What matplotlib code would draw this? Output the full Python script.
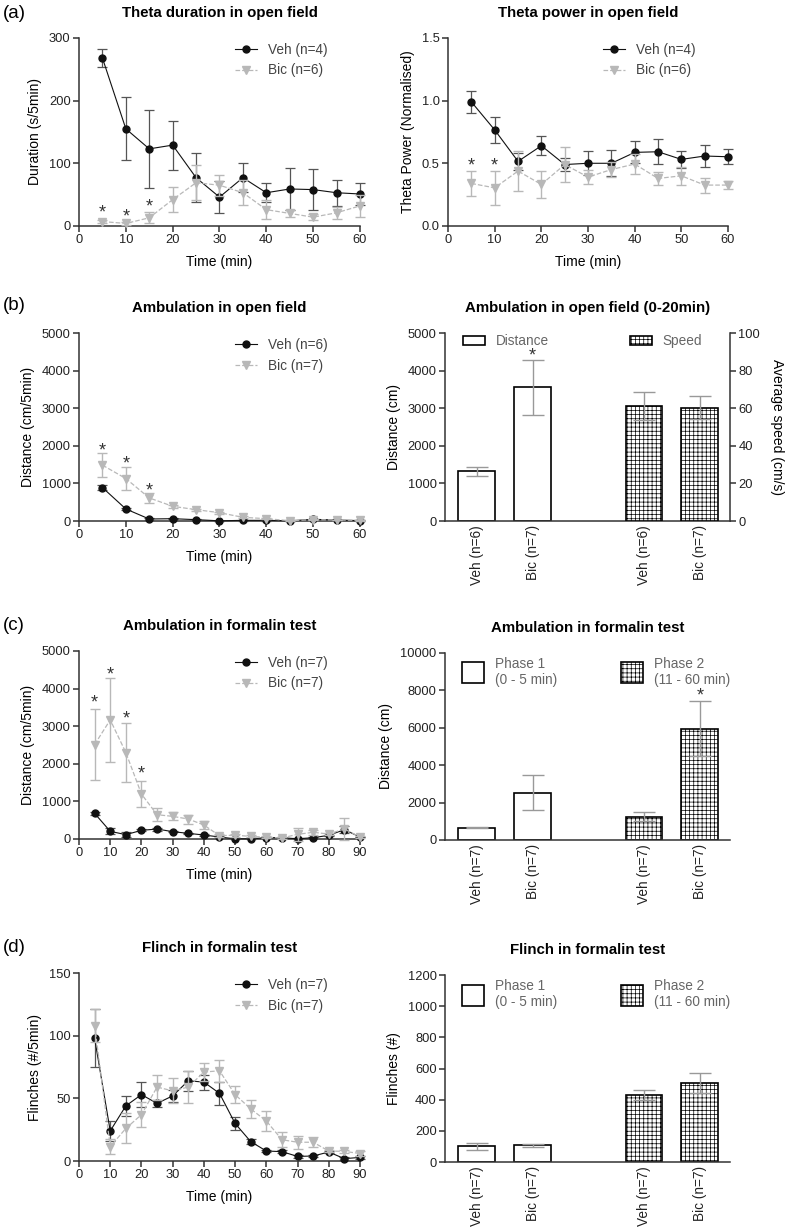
import matplotlib.pyplot as plt
from matplotlib.lines import Line2D
from matplotlib.patches import Patch

plt.rcParams['font.family'] = ['Liberation Sans', 'DejaVu Sans']
plt.rcParams['hatch.linewidth'] = 0.5
plt.rcParams['hatch.color'] = '#666666'

# time points (min)
t60 = [5, 10, 15, 20, 25, 30, 35, 40, 45, 50, 55, 60]
t90 = [5, 10, 15, 20, 25, 30, 35, 40, 45, 50, 55, 60, 65, 70, 75, 80, 85, 90]

# (a) theta duration
dur_veh = [268, 155, 123, 129, 77, 46, 77, 53, 59, 58, 53, 51]
dur_veh_err = [15, 50, 62, 39, 39, 25, 23, 15, 33, 33, 21, 18]
dur_bic = [7, 4, 13, 42, 69, 65, 53, 26, 20, 14, 21, 32]
dur_bic_err = [3, 2, 9, 20, 28, 17, 20, 15, 5, 5, 10, 18]
dur_star_x = [5, 10, 15]
dur_star_y = [20, 15, 30]

# (a) theta power
pow_veh = [0.99, 0.766, 0.515, 0.64, 0.49, 0.50, 0.50, 0.587, 0.592, 0.531, 0.558, 0.552]
pow_veh_err = [0.085, 0.105, 0.07, 0.077, 0.053, 0.095, 0.105, 0.088, 0.1, 0.07, 0.09, 0.058]
pow_bic = [0.339, 0.304, 0.438, 0.331, 0.49, 0.39, 0.45, 0.494, 0.379, 0.40, 0.326, 0.326]
pow_bic_err = [0.1, 0.135, 0.16, 0.11, 0.14, 0.054, 0.063, 0.083, 0.053, 0.07, 0.06, 0.033]
pow_star_x = [5, 10]
pow_star_y = [0.48, 0.48]

# (b) ambulation in open field
of_veh = [890, 320, 53, 62, 36, 5, 18, 18, 5, 45, 27, 10]
of_veh_err = [70, 30, 15, 20, 10, 5, 10, 10, 5, 15, 10, 5]
of_bic = [1486, 1130, 614, 391, 302, 222, 98, 62, 9, 36, 27, 18]
of_bic_err = [310, 310, 130, 40, 30, 30, 30, 20, 5, 10, 10, 5]
of_star_x = [5, 10, 15]
of_star_y = [1850, 1520, 810]

of_dist = [1326, 3559]
of_dist_err = [120, 730]
of_speed = [61.2, 60.3]
of_speed_err = [7.6, 6.0]
of_bar_star = (1, 4380)
of_bar_labels = ['Veh (n=6)', 'Bic (n=7)', 'Veh (n=6)', 'Bic (n=7)']

# (c) ambulation in formalin test
fm_veh = [681, 204, 115, 230, 265, 195, 150, 106, 53, 5, 5, 35, 35, 5, 35, 97, 248, 53]
fm_veh_err = [40, 80, 60, 30, 40, 20, 20, 20, 15, 10, 10, 10, 10, 10, 10, 20, 100, 10]
fm_bic = [2513, 3168, 2300, 1195, 646, 602, 531, 372, 88, 100, 70, 50, 27, 124, 177, 133, 265, 53]
fm_bic_err = [950, 1115, 780, 350, 170, 110, 120, 100, 40, 40, 30, 20, 15, 170, 60, 30, 290, 15]
fm_star_x = [5, 10, 15, 20]
fm_star_y = [3620, 4350, 3180, 1740]

fm_bar = [661, 2536, 1250, 5946]
fm_bar_err = [40, 950, 240, 1480]
fm_bar_star = (4, 7680)

# (d) flinch in formalin test
fl_veh = [98, 24, 44, 53, 46, 52, 64, 63, 54, 30, 15.5, 8, 7.5, 3.7, 4, 7.2, 1.9, 2.9]
fl_veh_err = [23, 8, 8, 10, 3, 5, 8, 6, 9, 5.5, 2, 1, 1, 1, 1, 1, 1, 1]
fl_bic = [108, 11.5, 26, 37, 59, 56, 59, 71, 72, 53, 41.6, 32, 17, 15, 15, 8, 7.7, 6]
fl_bic_err = [13, 6, 12, 10, 10, 10, 13, 7, 9, 6.5, 7, 8, 6, 5, 4, 1, 1, 2]

fl_bar = [100, 107, 431, 506]
fl_bar_err = [21, 10, 32, 64]
n7_labels = ['Veh (n=7)', 'Bic (n=7)', 'Veh (n=7)', 'Bic (n=7)']

bar_pos = [0, 1, 3, 4]

VEH = '#111111'
BIC = '#b8b8b8'
AX = '#333333'


def style_axes(ax):
    for s in ['top', 'right']:
        ax.spines[s].set_visible(False)
    for s in ['left', 'bottom']:
        ax.spines[s].set_linewidth(1.1)
        ax.spines[s].set_color(AX)
    ax.tick_params(direction='out', length=4, width=1.1, color=AX,
                   labelsize=9.3, labelcolor='#222222', pad=2)


def star(ax, x, y):
    ax.text(x, y, '*', ha='center', va='center', fontsize=13, color='#333333')


def line_panel(ax, t, veh, veh_err, bic, bic_err, star_x, star_y, names,
               xmax, ymax, ystep, ylabel, title):
    ax.errorbar(t, veh, yerr=veh_err, color=VEH, lw=0.8, marker='o', ms=5,
                ecolor='#555555', elinewidth=0.9, capsize=3.3, capthick=0.9,
                clip_on=False, zorder=3)
    ax.errorbar(t, bic, yerr=bic_err, color=BIC, lw=0.9, ls='--', marker='v', ms=5.5,
                ecolor=BIC, elinewidth=1.0, capsize=3.3, capthick=1.0,
                clip_on=False, zorder=4)
    for x, y in zip(star_x, star_y):
        star(ax, x, y)
    ax.set_xlim(0, xmax)
    ax.set_ylim(0, ymax)
    ax.set_xticks(range(0, xmax + 1, 10))
    yt = [i * ystep for i in range(int(round(ymax / ystep)) + 1)]
    ax.set_yticks(yt)
    style_axes(ax)
    ax.set_xlabel('Time (min)', fontsize=10, labelpad=6)
    ax.set_ylabel(ylabel, fontsize=10, labelpad=5)
    ax.set_title(title, fontsize=10.8, fontweight='bold', pad=15)
    handles = [Line2D([], [], color=VEH, lw=0.8, marker='o', ms=5),
               Line2D([], [], color=BIC, lw=0.9, ls='--', marker='v', ms=5.5)]
    ax.legend(handles, names, loc='upper left', bbox_to_anchor=(0.555, 0.975),
              frameon=False, borderaxespad=0, borderpad=0, handlelength=1.6,
              handletextpad=0.8, labelspacing=0.5, fontsize=9.8, labelcolor='#444444')


def bar_legend(ax, names, xs, y, handleheight):
    open_h = Patch(facecolor='white', edgecolor='black', lw=1.2)
    hatch_h = Patch(facecolor='white', edgecolor='black', lw=1.2, hatch='++++')
    first = None
    for h, name, x in zip([open_h, hatch_h], names, xs):
        leg = ax.legend([h], [name], loc='upper left', bbox_to_anchor=(x, y),
                        frameon=False, borderaxespad=0, borderpad=0,
                        handlelength=1.6, handleheight=handleheight,
                        handletextpad=0.8, fontsize=9.8, labelcolor='#666666')
        if first is None:
            first = leg
            ax.add_artist(leg)


def bar_axes_common(ax, labels, ymax, ystep, ylabel, title):
    ax.set_xlim(-0.57, 4.54)
    ax.set_ylim(0, ymax)
    ax.set_yticks([i * ystep for i in range(int(round(ymax / ystep)) + 1)])
    ax.set_xticks(bar_pos)
    ax.set_xticklabels(labels, rotation=90)
    style_axes(ax)
    ax.tick_params(axis='x', length=0, pad=3, labelsize=9.8)
    ax.set_ylabel(ylabel, fontsize=10, labelpad=5)
    ax.set_title(title, fontsize=10.8, fontweight='bold', pad=15)


fig = plt.figure(figsize=(7.87, 12.32), dpi=100)

L = [0.1004, 0.357]
R_line = [0.5693, 0.3558]
R_bar = [0.5654, 0.3621]
H = 0.1526

# ---- (a)
ax = fig.add_axes([L[0], 0.8166, L[1], H])
line_panel(ax, t60, dur_veh, dur_veh_err, dur_bic, dur_bic_err, dur_star_x, dur_star_y,
           ['Veh (n=4)', 'Bic (n=6)'], 60, 300, 100, 'Duration (s/5min)',
           'Theta duration in open field')
ax = fig.add_axes([R_line[0], 0.8166, R_line[1], H])
line_panel(ax, t60, pow_veh, pow_veh_err, pow_bic, pow_bic_err, pow_star_x, pow_star_y,
           ['Veh (n=4)', 'Bic (n=6)'], 60, 1.5, 0.5, 'Theta Power (Normalised)',
           'Theta power in open field')
ax.set_yticklabels(['0.0', '0.5', '1.0', '1.5'])

# ---- (b)
ax = fig.add_axes([L[0], 0.5771, L[1], H])
line_panel(ax, t60, of_veh, of_veh_err, of_bic, of_bic_err, of_star_x, of_star_y,
           ['Veh (n=6)', 'Bic (n=7)'], 60, 5000, 1000, 'Distance (cm/5min)',
           'Ambulation in open field')

ax = fig.add_axes([R_bar[0], 0.5771, R_bar[1], H])
ax2 = ax.twinx()
ax.bar(bar_pos[:2], of_dist, width=0.66, color='white', edgecolor='black', lw=1.2, zorder=2)
ax.errorbar(bar_pos[:2], of_dist, yerr=of_dist_err, fmt='none', ecolor='#999999',
            elinewidth=1.0, capsize=8, capthick=1.0, zorder=3)
ax2.bar(bar_pos[2:], of_speed, width=0.66, color='white', edgecolor='black', lw=1.2,
        hatch='++++', zorder=2)
ax2.errorbar(bar_pos[2:], of_speed, yerr=of_speed_err, fmt='none', ecolor='#999999',
             elinewidth=1.0, capsize=8, capthick=1.0, zorder=3)
star(ax, *of_bar_star)
bar_axes_common(ax, of_bar_labels, 5000, 1000, 'Distance (cm)',
                'Ambulation in open field (0-20min)')
ax2.set_ylim(0, 100)
ax2.set_yticks([0, 20, 40, 60, 80, 100])
for s in ['top', 'left', 'bottom']:
    ax2.spines[s].set_visible(False)
ax2.spines['right'].set_linewidth(1.1)
ax2.spines['right'].set_color(AX)
ax2.tick_params(direction='out', length=4, width=1.1, color=AX, labelsize=9.3,
                labelcolor='#222222', pad=2)
ax2.set_ylabel('Average speed (cm/s)', fontsize=10, rotation=270, labelpad=17)
bar_legend(ax, ['Distance', 'Speed'], [0.063, 0.649], 0.995, 0.65)

# ---- (c)
ax = fig.add_axes([L[0], 0.3190, L[1], H])
line_panel(ax, t90, fm_veh, fm_veh_err, fm_bic, fm_bic_err, fm_star_x, fm_star_y,
           ['Veh (n=7)', 'Bic (n=7)'], 90, 5000, 1000, 'Distance (cm/5min)',
           'Ambulation in formalin test')

ax = fig.add_axes([R_bar[0], 0.3182, R_bar[1], 0.1518])
ax.bar(bar_pos[:2], fm_bar[:2], width=0.66, color='white', edgecolor='black', lw=1.2, zorder=2)
ax.bar(bar_pos[2:], fm_bar[2:], width=0.66, color='white', edgecolor='black', lw=1.2,
       hatch='++++', zorder=2)
ax.errorbar(bar_pos, fm_bar, yerr=fm_bar_err, fmt='none', ecolor='#999999',
            elinewidth=1.0, capsize=8, capthick=1.0, zorder=3)
star(ax, *fm_bar_star)
bar_axes_common(ax, n7_labels, 10000, 2000, 'Distance (cm)', 'Ambulation in formalin test')
bar_legend(ax, ['Phase 1\n(0 - 5 min)', 'Phase 2\n(11 - 60 min)'], [0.06, 0.618], 0.98, 2.0)

# ---- (d)
ax = fig.add_axes([L[0], 0.0576, L[1], H])
line_panel(ax, t90, fl_veh, fl_veh_err, fl_bic, fl_bic_err, [], [],
           ['Veh (n=7)', 'Bic (n=7)'], 90, 150, 50, 'Flinches (#/5min)',
           'Flinch in formalin test')

ax = fig.add_axes([R_bar[0], 0.0568, R_bar[1], 0.1518])
ax.bar(bar_pos[:2], fl_bar[:2], width=0.66, color='white', edgecolor='black', lw=1.2, zorder=2)
ax.bar(bar_pos[2:], fl_bar[2:], width=0.66, color='white', edgecolor='black', lw=1.2,
       hatch='++++', zorder=2)
ax.errorbar(bar_pos, fl_bar, yerr=fl_bar_err, fmt='none', ecolor='#999999',
            elinewidth=1.0, capsize=8, capthick=1.0, zorder=3)
bar_axes_common(ax, n7_labels, 1200, 200, 'Flinches (#)', 'Flinch in formalin test')
bar_legend(ax, ['Phase 1\n(0 - 5 min)', 'Phase 2\n(11 - 60 min)'], [0.06, 0.618], 0.98, 2.0)

# panel letters
for lab, ypix in [('(a)', 13), ('(b)', 305), ('(c)', 625), ('(d)', 947)]:
    fig.text(0.004, 1 - ypix / 1232, lab, fontsize=13.5, va='center', ha='left')

fig.savefig('out.png', dpi=100)
